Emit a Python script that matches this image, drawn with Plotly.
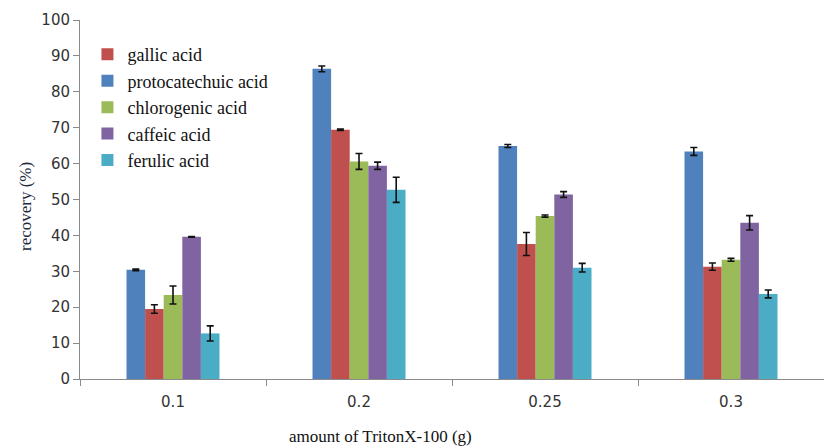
import plotly.graph_objects as go

# TritonX-100 amounts (g) on the category axis
amounts = ["0.1", "0.2", "0.25", "0.3"]

# recovery (%) per phenolic acid, with standard deviations
protocatechuic = [30.4, 86.4, 64.9, 63.4]
protocatechuic_sd = [0.2, 0.8, 0.4, 1.1]
gallic = [19.5, 69.4, 37.6, 31.3]
gallic_sd = [1.2, 0.2, 3.2, 1.0]
chlorogenic = [23.4, 60.6, 45.4, 33.2]
chlorogenic_sd = [2.5, 2.2, 0.3, 0.4]
caffeic = [39.6, 59.4, 51.4, 43.5]
caffeic_sd = [0.1, 1.0, 0.8, 2.0]
ferulic = [12.7, 52.7, 31.0, 23.7]
ferulic_sd = [2.1, 3.5, 1.2, 1.1]

# bar order within each group, legend rank, label, colour
series = [
    ("protocatechuic acid", protocatechuic, protocatechuic_sd, "#4F81BD", 2),
    ("gallic acid", gallic, gallic_sd, "#C0504D", 1),
    ("chlorogenic acid", chlorogenic, chlorogenic_sd, "#9BBB59", 3),
    ("caffeic acid", caffeic, caffeic_sd, "#8064A2", 4),
    ("ferulic acid", ferulic, ferulic_sd, "#4BACC6", 5),
]

fig = go.Figure()
for name, vals, sd, color, rank in series:
    fig.add_trace(go.Bar(
        name=name,
        x=amounts,
        y=vals,
        marker=dict(color=color, line=dict(width=0)),
        error_y=dict(type="data", array=sd, visible=True,
                     color="#111111", thickness=1.6, width=3.5),
        legendrank=rank,
    ))

fig.update_layout(
    width=824,
    height=446,
    margin=dict(l=80, r=0, t=20, b=67),
    paper_bgcolor="white",
    plot_bgcolor="white",
    barmode="group",
    bargap=0.5,
    bargroupgap=0,
    showlegend=True,
    legend=dict(
        x=0.01, y=0.955, xanchor="left", yanchor="top",
        bgcolor="rgba(255,255,255,0)",
        font=dict(family="Liberation Serif", size=18, color="#111111"),
        itemwidth=30,
        traceorder="normal",
    ),
    font=dict(family="DejaVu Sans", size=14, color="#333333"),
)

fig.update_xaxes(
    type="category",
    showline=True, linecolor="#8a8a8a", linewidth=1,
    ticks="outside", tickson="boundaries", ticklen=6, tickcolor="#8a8a8a",
    ticklabelstandoff=9,
    tickfont=dict(family="DejaVu Sans", size=15, color="#333333"),
    showgrid=False, zeroline=False,
)
fig.update_yaxes(
    range=[0, 100], dtick=10,
    showline=True, linecolor="#8a8a8a", linewidth=1,
    ticks="outside", ticklen=6, tickcolor="#8a8a8a",
    tickfont=dict(family="DejaVu Sans", size=15, color="#333333"),
    showgrid=False, zeroline=False,
)

# axis titles
fig.add_annotation(
    text="amount of TritonX-100 (g)", xref="paper", yref="paper",
    x=(380 - 80) / 744, y=-57 / 359, xanchor="center", yanchor="middle",
    showarrow=False, font=dict(family="Liberation Serif", size=17, color="#111111"),
)
fig.add_annotation(
    text="recovery (%)", xref="paper", yref="paper",
    x=-55 / 744, y=(379 - 207) / 359, xanchor="center", yanchor="middle",
    textangle=-90, showarrow=False,
    font=dict(family="Liberation Serif", size=17, color="#1c2b40"),
)

fig.write_html("out.html")
